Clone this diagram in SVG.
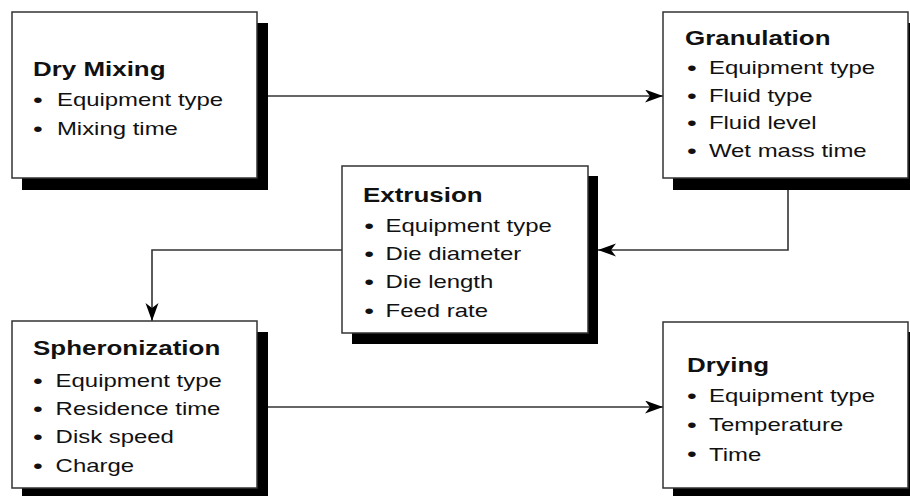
<svg xmlns="http://www.w3.org/2000/svg" width="910" height="496" viewBox="0 0 910 496">
<defs>
<style>
.box{fill:#fff;stroke:#333;stroke-width:1.5}
.shadow{fill:#000}
.t{font-family:"Liberation Sans",Arial,Helvetica,sans-serif;fill:#111}
.h{font-size:19.5px;font-weight:bold}
.i{font-size:18px}
.b{font-size:21px}
.conn{fill:none;stroke:#333;stroke-width:1.6;marker-end:url(#arr)}
</style>
<marker id="arr" markerUnits="userSpaceOnUse" markerWidth="20" markerHeight="14" refX="18" refY="6.5" orient="auto">
<path d="M0,0 L18,6.5 L0,13 L5,6.5 Z" fill="#000"/>
</marker>
</defs>
<rect width="910" height="496" fill="#fff"/>

<g id="connectors">
<path class="conn" d="M268,96 H663"/>
<path class="conn" d="M788,190 V250 H598"/>
<path class="conn" d="M342,250 H152 V321"/>
<path class="conn" d="M268,407 H663"/>
</g>

<g id="dry-mixing">
<rect class="shadow" x="22" y="23" width="246" height="167"/>
<rect class="box" x="12" y="12" width="245" height="166"/>
<g class="t" transform="translate(33 0) scale(1.33 1)">
<text class="h" x="0" y="76">Dry Mixing</text>
<text class="b" x="0" y="107">•</text><text class="i" x="18" y="106">Equipment type</text>
<text class="b" x="0" y="136">•</text><text class="i" x="18" y="135">Mixing time</text>
</g>
</g>

<g id="granulation">
<rect class="shadow" x="673" y="23" width="246" height="167"/>
<rect class="box" x="663" y="12" width="245" height="166"/>
<g class="t" transform="translate(685 0) scale(1.33 1)">
<text class="h" x="0" y="45">Granulation</text>
<text class="b" x="1.5" y="75">•</text><text class="i" x="18" y="74">Equipment type</text>
<text class="b" x="1.5" y="103">•</text><text class="i" x="18" y="102">Fluid type</text>
<text class="b" x="1.5" y="130">•</text><text class="i" x="18" y="129">Fluid level</text>
<text class="b" x="1.5" y="158">•</text><text class="i" x="18" y="157">Wet mass time</text>
</g>
</g>

<g id="extrusion">
<rect class="shadow" x="352" y="176" width="246" height="168"/>
<rect class="box" x="342" y="166" width="246" height="167"/>
<g class="t" transform="translate(363 0) scale(1.33 1)">
<text class="h" x="0" y="202">Extrusion</text>
<text class="b" x="1" y="233">•</text><text class="i" x="17" y="232">Equipment type</text>
<text class="b" x="1" y="261">•</text><text class="i" x="17" y="260">Die diameter</text>
<text class="b" x="1" y="289">•</text><text class="i" x="17" y="288">Die length</text>
<text class="b" x="1" y="318">•</text><text class="i" x="17" y="317">Feed rate</text>
</g>
</g>

<g id="spheronization">
<rect class="shadow" x="22" y="332" width="246" height="170"/>
<rect class="box" x="12" y="321" width="245" height="167"/>
<g class="t" transform="translate(33 0) scale(1.33 1)">
<text class="h" x="0" y="355">Spheronization</text>
<text class="b" x="0" y="388">•</text><text class="i" x="17" y="387">Equipment type</text>
<text class="b" x="0" y="416">•</text><text class="i" x="17" y="415">Residence time</text>
<text class="b" x="0" y="444">•</text><text class="i" x="17" y="443">Disk speed</text>
<text class="b" x="0" y="473">•</text><text class="i" x="17" y="472">Charge</text>
</g>
</g>

<g id="drying">
<rect class="shadow" x="673" y="332" width="246" height="170"/>
<rect class="box" x="663" y="322" width="245" height="166"/>
<g class="t" transform="translate(687 0) scale(1.33 1)">
<text class="h" x="0" y="372">Drying</text>
<text class="b" x="0" y="403">•</text><text class="i" x="16.5" y="402">Equipment type</text>
<text class="b" x="0" y="432">•</text><text class="i" x="16.5" y="431">Temperature</text>
<text class="b" x="0" y="461">•</text><text class="i" x="16.5" y="461">Time</text>
</g>
</g>
</svg>
